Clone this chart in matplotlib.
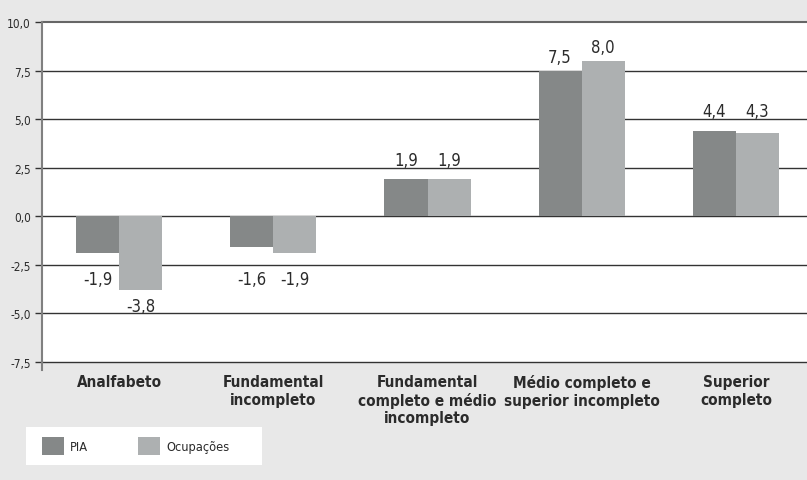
import matplotlib
matplotlib.use("Agg")
import matplotlib.pyplot as plt
from matplotlib.patches import Rectangle, Patch
import numpy as np

categories = ["Analfabeto", "Fundamental\nincompleto", "Fundamental\ncompleto e médio\nincompleto",
              "Médio completo e\nsuperior incompleto", "Superior\ncompleto"]
pia = [-1.9, -1.6, 1.9, 7.5, 4.4]
ocupacoes = [-3.8, -1.9, 1.9, 8.0, 4.3]
series_names = ["PIA", "Ocupações"]
yticks = [-7.5, -5.0, -2.5, 0.0, 2.5, 5.0, 7.5, 10.0]
ytick_labels = ["-7,5", "-5,0", "-2,5", "0,0", "2,5", "5,0", "7,5", "10,0"]

plt.rcParams['font.family'] = ['DejaVu Sans']
plt.rcParams['font.stretch'] = 'condensed'

c_pia = "#858888"
c_ocu = "#adb0b1"
bg = "#e8e8e8"
txt = "#2b2b2b"

W, H = 807, 481
fig = plt.figure(figsize=(W / 100, H / 100), dpi=100, facecolor=bg)
ax = fig.add_axes([42 / W, 1 - 363 / H, (813 - 42) / W, (363 - 23) / H])
ax.set_facecolor("white")

x = np.arange(len(categories))
bw = 0.28
ax.bar(x - bw / 2, pia, bw, color=c_pia, zorder=3)
ax.bar(x + bw / 2, ocupacoes, bw, color=c_ocu, zorder=3)

ax.set_xlim(-0.5, len(categories) - 0.5)
ax.set_ylim(-7.5, 10.0)
ax.set_yticks(yticks)
ax.set_yticklabels(ytick_labels, fontsize=8.5, color=txt)
ax.tick_params(axis='y', length=5, width=1, color="#333333", pad=3)
ax.set_xticks([])
for g in yticks:
    ax.axhline(g, color="#333333" if g < 10 else "#666666", lw=1.0 if g < 10 else 1.5,
               zorder=1, clip_on=False)
for s in ["top", "right", "bottom"]:
    ax.spines[s].set_visible(False)
ax.spines["left"].set_color("#808080")
ax.spines["left"].set_linewidth(1.5)
ax.spines["left"].set_zorder(6)
ax.plot([-0.5, -0.5], [-7.5, -7.9], color="#808080", lw=1.5, clip_on=False, zorder=6)

# value labels (avoid gridlines)
units_per_px = 17.5 / 340
off = 9 * units_per_px
th = 14 * units_per_px
def fmt(v):
    return f"{v:.1f}".replace(".", ",")
for xs, vals in [(x - bw / 2, pia), (x + bw / 2, ocupacoes)]:
    for xi, v in zip(xs, vals):
        if v >= 0:
            base = v + off
            for g in yticks:
                if base - 0.1 < g < base + th:
                    base = g + 3 * units_per_px
            ax.text(xi, base, fmt(v), ha='center', va='baseline', fontsize=12, color=txt, zorder=5)
        else:
            top = v - off + 2 * units_per_px
            for g in yticks:
                if top - th < g < top + 0.1:
                    top = g - 5 * units_per_px
            ax.text(xi, top, fmt(v), ha='center', va='top', fontsize=12, color=txt, zorder=5)

# category labels
for xi, c in zip(x, categories):
    ax.annotate(c, xy=(xi, -7.5), xycoords='data', xytext=(0, -9), textcoords='offset points',
                ha='center', va='top', fontsize=11, fontweight='bold', color=txt, linespacing=1.2)

# legend
fig.patches.append(Rectangle((26 / W, 1 - 466 / H), (262 - 26) / W, (466 - 428) / H,
                             transform=fig.transFigure, facecolor="white", edgecolor="none", zorder=0))
handles = [Patch(facecolor=c_pia, edgecolor='none'), Patch(facecolor=c_ocu, edgecolor='none')]
fig.legend(handles, series_names, loc='center left', bbox_to_anchor=(42 / W, 1 - 447 / H),
           ncol=2, frameon=False, fontsize=9.2, handlelength=1.75, handleheight=1.7,
           handletextpad=0.45, columnspacing=3.9, borderpad=0, borderaxespad=0,
           labelcolor=txt)

fig.savefig("out.png", dpi=100, facecolor=bg)
